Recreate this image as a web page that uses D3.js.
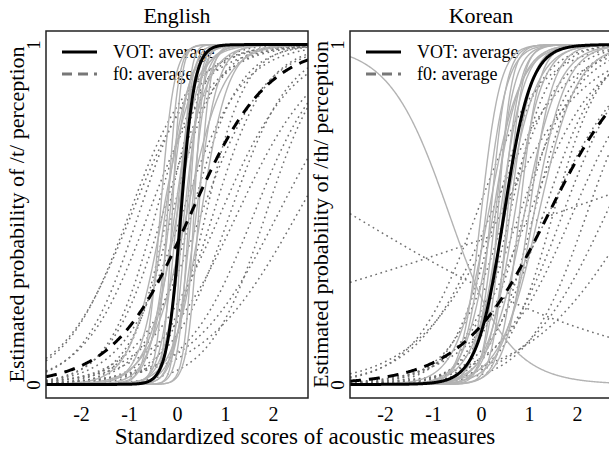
<!DOCTYPE html>
<html>
<head>
<meta charset="utf-8">
<script src="https://cdn.jsdelivr.net/npm/d3@7"></script>
<style>
  html, body { margin: 0; padding: 0; background: #fff; }
  svg text { font-family: "Liberation Serif", "Times New Roman", Times, serif; fill: #000; }
</style>
</head>
<body>
<svg id="chart" width="609" height="453"></svg>
<script>
// ---------------- data (fitted logistic curves per listener) ----------------
const panelTitles = ["English", "Korean"];
const yTitles = ["Estimated probability of /t/ perception", "Estimated probability of /th/ perception"];
const xTitle = "Standardized scores of acoustic measures";
const xTickValues = [-2, -1, 0, 1, 2];
const yTickValues = [0, 1];
const legendLabels = ["VOT: average", "f0: average"];

// English: VOT per listener (midpoint, slope)
const engVotMid   = [-0.35, -0.25, -0.2, -0.15, -0.1, -0.05, 0.0, 0.05, 0.1, 0.15, 0.2, 0.25, 0.3, 0.35, 0.4, 0.45, -0.3, 0.2, 0.5, 0.0];
const engVotSlope = [7, 4, 9, 5, 11, 4, 6, 8, 12, 5, 7, 9, 6, 10, 4.5, 8.5, 3, 2.6, 3.5, 3.2];
// English: f0 per listener
const engF0Mid    = [-1.0, -0.95, -0.8, -0.6, -0.45, -0.3, -0.1, 0.1, 0.3, 0.5, 0.75, 0.9, 1.1, 1.25, 1.6, 1.85, 2.1, 2.5, -0.2, 0.6];
const engF0Slope  = [1.5, 1.4, 1.7, 1.5, 2.0, 1.8, 2.2, 1.6, 2.0, 1.5, 1.8, 1.3, 1.6, 1.2, 1.4, 1.7, 1.1, 1.0, 2.6, 2.4];
// English averages
const engVotAvg = { mid: 0.08, slope: 7 };
const engF0Avg  = { mid: 0.28, slope: 1.25 };

// Korean: VOT per listener
const korVotMid   = [0.0, 0.1, 0.15, 0.2, 0.25, 0.3, 0.35, 0.4, 0.45, 0.5, 0.55, 0.6, 0.7, 0.8, 0.9, 1.0, 1.1, 1.2, -0.66];
const korVotSlope = [5, 4.5, 3, 6, 3.5, 5, 7, 4, 5.5, 3, 6.5, 4.5, 3.5, 5, 2.8, 4, 3, 2.5, -1.6];
// Korean: f0 per listener
const korF0Mid    = [-0.1, 0.2, 0.3, 0.5, 0.6, 0.8, 0.9, 1.0, 1.1, 1.3, 1.4, 1.5, 1.7, 1.9, 2.2, 2.6, 3.2, -2.7, 1.5, 0.4];
const korF0Slope  = [1.5, 1.3, 2.2, 1.8, 2.5, 1.6, 2.0, 1.4, 2.2, 1.7, 1.2, 2.0, 1.5, 1.3, 1.6, 1.2, 0.9, -0.34, 0.2, 1.1];
// Korean averages
const korVotAvg = { mid: 0.48, slope: 3.6 };
const korF0Avg  = { mid: 1.4, slope: 1.12 };

// ---------------- layout ----------------
const FONT = "'Liberation Serif', 'Times New Roman', Times, serif";
const svg = d3.select("#chart");
const boxTop = 31, boxBottom = 398;
const panelsX = [[46, 308], [350, 612]];
const xDomain = [-2.73, 2.73];
const y = d3.scaleLinear().domain([-0.04, 1.04]).range([boxBottom, boxTop]);
const gridX = d3.range(0, 401).map(i => xDomain[0] + (xDomain[1] - xDomain[0]) * i / 400);
const logistic = (x, m, b) => 1 / (1 + Math.exp(-b * (x - m)));

const panels = [
  { votMid: engVotMid, votSlope: engVotSlope, f0Mid: engF0Mid, f0Slope: engF0Slope, votAvg: engVotAvg, f0Avg: engF0Avg },
  { votMid: korVotMid, votSlope: korVotSlope, f0Mid: korF0Mid, f0Slope: korF0Slope, votAvg: korVotAvg, f0Avg: korF0Avg }
];

panels.forEach((p, i) => {
  const [x0, x1] = panelsX[i];
  const x = d3.scaleLinear().domain(xDomain).range([x0, x1]);
  const g = svg.append("g");
  const clipId = "clip" + i;
  svg.append("clipPath").attr("id", clipId)
    .append("rect").attr("x", x0).attr("y", boxTop).attr("width", x1 - x0).attr("height", boxBottom - boxTop);

  // title
  g.append("text").attr("x", (x0 + x1) / 2).attr("y", 23).attr("text-anchor", "middle")
    .style("font-family", FONT).style("font-size", "22px").text(panelTitles[i]);

  // y title
  g.append("text")
    .attr("transform", `translate(${x0 - 22},${(boxTop + boxBottom) / 2}) rotate(-90)`)
    .attr("text-anchor", "middle").style("font-family", FONT).style("font-size", "22px").text(yTitles[i]);

  // x axis labels
  const xAxis = d3.axisBottom(x).tickValues(xTickValues).tickSize(0).tickPadding(9).tickFormat(d3.format("d"));
  const gx = g.append("g").attr("transform", `translate(0,${boxBottom})`).call(xAxis);
  gx.select(".domain").remove();
  gx.attr("font-family", null);
  gx.selectAll("text").style("font-family", FONT).style("font-size", "20px").text(d => d < 0 ? "-" + Math.abs(d) : d);

  // y axis labels (rotated)
  const yAxis = d3.axisLeft(y).tickValues(yTickValues).tickSize(0).tickFormat(d3.format("d"));
  const gy = g.append("g").attr("transform", `translate(${x0},0)`).call(yAxis);
  gy.select(".domain").remove();
  gy.attr("font-family", null);
  gy.selectAll("text").attr("x", null).attr("dy", null).attr("text-anchor", "middle")
    .attr("transform", "translate(-6,0) rotate(-90)").style("font-family", FONT).style("font-size", "19px");

  // legend (drawn below the curves)
  const lg = g.append("g");
  lg.append("line").attr("x1", x0 + 16).attr("x2", x0 + 51).attr("y1", 52).attr("y2", 52)
    .attr("stroke", "#000").attr("stroke-width", 3);
  lg.append("line").attr("x1", x0 + 16).attr("x2", x0 + 51).attr("y1", 74).attr("y2", 74)
    .attr("stroke", "#777").attr("stroke-width", 3).attr("stroke-dasharray", "10,6");
  lg.append("text").attr("x", x0 + 67).attr("y", 58).style("font-family", FONT).style("font-size", "18px").text(legendLabels[0]);
  lg.append("text").attr("x", x0 + 67).attr("y", 80).style("font-family", FONT).style("font-size", "18px").text(legendLabels[1]);

  const line = d3.line().x(d => x(d[0])).y(d => y(d[1]));
  const curve = (m, b) => gridX.map(v => [v, logistic(v, m, b)]);
  const cg = g.append("g").attr("clip-path", `url(#${clipId})`).attr("fill", "none");

  // f0 individual (dotted)
  p.f0Mid.forEach((m, k) => {
    cg.append("path").attr("d", line(curve(m, p.f0Slope[k])))
      .attr("stroke", "#707070").attr("stroke-width", 1.5).attr("stroke-dasharray", "1.7,3.6");
  });
  // VOT individual (solid light gray)
  p.votMid.forEach((m, k) => {
    cg.append("path").attr("d", line(curve(m, p.votSlope[k])))
      .attr("stroke", "#b3b3b3").attr("stroke-width", 1.4);
  });
  // averages
  cg.append("path").attr("d", line(curve(p.f0Avg.mid, p.f0Avg.slope)))
    .attr("stroke", "#000").attr("stroke-width", 3).attr("stroke-dasharray", "11,8");
  cg.append("path").attr("d", line(curve(p.votAvg.mid, p.votAvg.slope)))
    .attr("stroke", "#000").attr("stroke-width", 3);

  // box
  g.append("rect").attr("x", x0).attr("y", boxTop).attr("width", x1 - x0).attr("height", boxBottom - boxTop)
    .attr("fill", "none").attr("stroke", "#222").attr("stroke-width", 1.5);
});

// x title
svg.append("text").attr("x", 305).attr("y", 444).attr("text-anchor", "middle")
  .style("font-family", FONT).style("font-size", "23px").text(xTitle);
</script>
</body>
</html>
